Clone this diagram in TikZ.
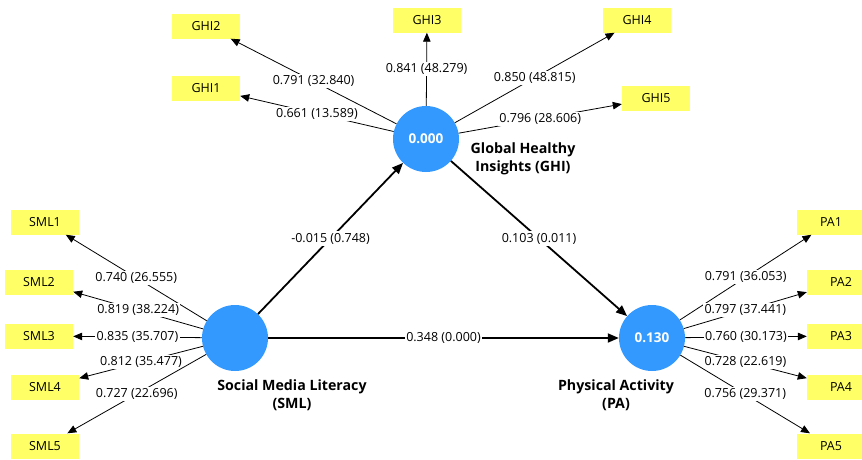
\documentclass[tikz,border=0pt]{standalone}
\usepackage{fontspec}
\setmainfont{Open Sans}
\usetikzlibrary{arrows.meta, positioning, calc}
\definecolor{lvblue}{HTML}{3399FF}
\definecolor{indyellow}{HTML}{FFFF66}

\begin{document}
\begin{tikzpicture}[x=1pt, y=-1pt,
  every node/.style={font=\fontsize{12.5}{14}\selectfont},
  latent/.style={circle, fill=lvblue, minimum size=66pt, inner sep=0pt, text=white, font=\fontsize{13.5}{15}\selectfont\bfseries},
  indic/.style={fill=indyellow, minimum width=68pt, minimum height=25pt, inner sep=0pt},
  loading/.style={draw=black, line width=0.8pt, -{Triangle[length=9pt,width=7.5pt]}},
  structpath/.style={draw=black, line width=1.8pt, -{Triangle[length=11pt,width=9pt]}},
  val/.style={fill=white, inner sep=1.5pt, midway},
  lvname/.style={font=\fontsize{14.2}{18}\selectfont\bfseries, align=center}]
  \useasboundingbox (0,0) rectangle (862,459);

  % latent variables
  \node[latent] (ghi) at (426,139) {0.000};
  \node[latent] (sml) at (235,338) {};
  \node[latent] (pa) at (652,338) {0.130};

  % construct names
  \node[lvname] (ghiname) at (523,159) {Global Healthy\\Insights (GHI)};
  \node[lvname] (smlname) at (292,395) {Social Media Literacy\\(SML)};
  \node[lvname] (paname) at (616,395) {Physical Activity\\(PA)};

  % outer loadings (t values in brackets)
  \foreach \ind/\pos/\load in {
    GHI1/{206,88}/{0.661 (13.589)},
    GHI2/{206,26}/{0.791 (32.840)},
    GHI3/{427,20}/{0.841 (48.279)},
    GHI4/{637,20}/{0.850 (48.815)},
    GHI5/{656,98}/{0.796 (28.606)}} {
    \node[indic] (\ind) at (\pos) {\ind};
    \draw[loading] (ghi) -- (\ind) node[val] {\load};
  }
  \foreach \ind/\pos/\load in {
    SML1/{45,222}/{0.740 (26.555)},
    SML2/{39,282}/{0.819 (38.224)},
    SML3/{39,336}/{0.835 (35.707)},
    SML4/{45,387}/{0.812 (35.477)},
    SML5/{45,446}/{0.727 (22.696)}} {
    \node[indic] (\ind) at (\pos) {\ind};
    \draw[loading] (sml) -- (\ind) node[val] {\load};
  }
  \foreach \ind/\pos/\load in {
    PA1/{831,222}/{0.791 (36.053)},
    PA2/{841,282}/{0.797 (37.441)},
    PA3/{841,336}/{0.760 (30.173)},
    PA4/{841,387}/{0.728 (22.619)},
    PA5/{831,446}/{0.756 (29.371)}} {
    \node[indic] (\ind) at (\pos) {\ind};
    \draw[loading] (pa) -- (\ind) node[val] {\load};
  }

  % inner model
  \draw[structpath] (sml) -- (ghi) node[val] {-0.015 (0.748)};
  \draw[structpath] (ghi) -- (pa) node[val] {0.103 (0.011)};
  \draw[structpath] (sml) -- (pa) node[val] {0.348 (0.000)};
\end{tikzpicture}
\end{document}
